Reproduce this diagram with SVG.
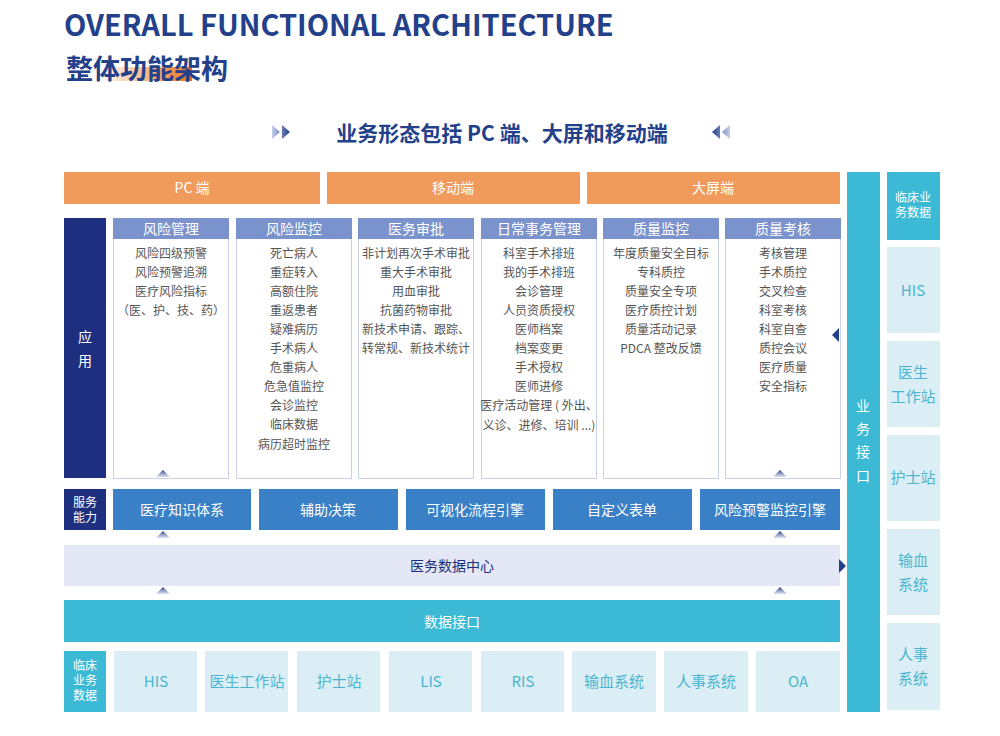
<svg xmlns="http://www.w3.org/2000/svg" width="1000" height="736" viewBox="0 0 1000 736">
<defs>
<linearGradient id="og" x1="0" x2="1"><stop offset="0" stop-color="#f08a3c" stop-opacity="0"/><stop offset="0.5" stop-color="#f08a3c" stop-opacity="0.6"/><stop offset="1" stop-color="#e8701f"/></linearGradient>
<linearGradient id="ag" x1="0" y1="0" x2="0" y2="1"><stop offset="0" stop-color="#1d2f7e"/><stop offset="1" stop-color="#7b93cc" stop-opacity="0.3"/></linearGradient>
<linearGradient id="ch" x1="0" x2="1"><stop offset="0" stop-color="#c5cdea"/><stop offset="1" stop-color="#23408a"/></linearGradient>
<linearGradient id="chl" x1="1" x2="0"><stop offset="0" stop-color="#c5cdea"/><stop offset="1" stop-color="#23408a"/></linearGradient>
</defs>
<style>
text{font-family:"Noto Sans CJK SC","Noto Sans",sans-serif;}
.w{fill:#fff;font-size:14px;text-anchor:middle}
.it{fill:#555;font-size:12px;text-anchor:middle}
.hd{fill:#7b93cc}
.bd{fill:#fff;stroke:#c9d0e8;stroke-width:1}
.sv{fill:#3a80c6}
.lt{fill:#dceef5}
.lx{fill:#4bb5d0;font-size:15px;text-anchor:middle}
.or{fill:#f09a5c}
.tl{fill:#3bb9d5}
.nv{fill:#1d2f7e}
</style>
<rect width="1000" height="736" fill="#fff"/>
<g id="title">
<text x="64" y="36" font-family="Roboto,'Liberation Sans',sans-serif" font-size="29" font-weight="bold" fill="#23408a">OVERALL FUNCTIONAL ARCHITECTURE</text>
<rect x="100" y="67" width="92" height="14" fill="url(#og)"/>
<text x="66" y="79" font-size="27" font-weight="bold" fill="#23408a">整体功能架构</text>
<path d="M272,125 l8,7 l-8,7 z M282,125 l8,7 l-8,7 z" fill="url(#ch)"/>
<text x="502" y="141" font-size="21" font-weight="bold" fill="#23408a" text-anchor="middle">业务形态包括 PC 端、大屏和移动端</text>
<path d="M730,125 l-8,7 l8,7 z M720,125 l-8,7 l8,7 z" fill="url(#chl)"/>
</g>
<g id="terminals">
<rect class="or" x="64" y="172" width="256" height="32"/><text class="w" x="192" y="193">PC 端</text>
<rect class="or" x="327" y="172" width="253" height="32"/><text class="w" x="453" y="193">移动端</text>
<rect class="or" x="587" y="172" width="253" height="32"/><text class="w" x="713" y="193">大屏端</text>
</g>
<g id="app">
<rect class="nv" x="64" y="218" width="42" height="260"/>
<text class="w" x="85" y="342">应</text><text class="w" x="85" y="366">用</text>
<g id="c1"><rect class="bd" x="113.5" y="218.5" width="115" height="260"/><rect class="hd" x="113" y="218" width="116" height="21"/><text class="w" x="171" y="234" font-size="13">风险管理</text>
<text class="it" x="171" y="258">风险四级预警</text><text class="it" x="171" y="277">风险预警追溯</text><text class="it" x="171" y="296">医疗风险指标</text><text class="it" x="171" y="315">（医、护、技、药）</text></g>
<g id="c2"><rect class="bd" x="236.5" y="218.5" width="115" height="260"/><rect class="hd" x="236" y="218" width="116" height="21"/><text class="w" x="294" y="234" font-size="13">风险监控</text>
<text class="it" x="294" y="258">死亡病人</text><text class="it" x="294" y="277">重症转入</text><text class="it" x="294" y="296">高额住院</text><text class="it" x="294" y="315">重返患者</text><text class="it" x="294" y="334">疑难病历</text><text class="it" x="294" y="353">手术病人</text><text class="it" x="294" y="372">危重病人</text><text class="it" x="294" y="391">危急值监控</text><text class="it" x="294" y="410">会诊监控</text><text class="it" x="294" y="429">临床数据</text><text class="it" x="294" y="449">病历超时监控</text></g>
<g id="c3"><rect class="bd" x="358.5" y="218.5" width="115" height="260"/><rect class="hd" x="358" y="218" width="116" height="21"/><text class="w" x="416" y="234" font-size="13">医务审批</text>
<text class="it" x="416" y="258">非计划再次手术审批</text><text class="it" x="416" y="277">重大手术审批</text><text class="it" x="416" y="296">用血审批</text><text class="it" x="416" y="315">抗菌药物审批</text><text class="it" x="416" y="334">新技术申请、跟踪、</text><text class="it" x="416" y="353">转常规、新技术统计</text></g>
<g id="c4"><rect class="bd" x="481.5" y="218.5" width="115" height="260"/><rect class="hd" x="481" y="218" width="116" height="21"/><text class="w" x="539" y="234" font-size="13">日常事务管理</text>
<text class="it" x="539" y="258">科室手术排班</text><text class="it" x="539" y="277">我的手术排班</text><text class="it" x="539" y="296">会诊管理</text><text class="it" x="539" y="315">人员资质授权</text><text class="it" x="539" y="334">医师档案</text><text class="it" x="539" y="353">档案变更</text><text class="it" x="539" y="372">手术授权</text><text class="it" x="539" y="391">医师进修</text><text class="it" x="539" y="410">医疗活动管理 ( 外出、</text><text class="it" x="539" y="430">义诊、进修、培训 ...)</text></g>
<g id="c5"><rect class="bd" x="603.5" y="218.5" width="115" height="260"/><rect class="hd" x="603" y="218" width="116" height="21"/><text class="w" x="661" y="234" font-size="13">质量监控</text>
<text class="it" x="661" y="258">年度质量安全目标</text><text class="it" x="661" y="277">专科质控</text><text class="it" x="661" y="296">质量安全专项</text><text class="it" x="661" y="315">医疗质控计划</text><text class="it" x="661" y="334">质量活动记录</text><text class="it" x="661" y="353">PDCA 整改反馈</text></g>
<g id="c6"><rect class="bd" x="725.5" y="218.5" width="115" height="260"/><rect class="hd" x="725" y="218" width="116" height="21"/><text class="w" x="783" y="234" font-size="13">质量考核</text>
<text class="it" x="783" y="258">考核管理</text><text class="it" x="783" y="277">手术质控</text><text class="it" x="783" y="296">交叉检查</text><text class="it" x="783" y="315">科室考核</text><text class="it" x="783" y="334">科室自查</text><text class="it" x="783" y="353">质控会议</text><text class="it" x="783" y="372">医疗质量</text><text class="it" x="783" y="391">安全指标</text></g>
</g>
<g id="service">
<rect class="nv" x="64" y="489" width="42" height="41"/>
<text x="85" y="507" fill="#fff" font-size="12" text-anchor="middle">服务</text><text x="85" y="522" fill="#fff" font-size="12" text-anchor="middle">能力</text>
<rect class="sv" x="113" y="489" width="138" height="41"/><text class="w" x="182" y="515">医疗知识体系</text>
<rect class="sv" x="259" y="489" width="139" height="41"/><text class="w" x="328" y="515">辅助决策</text>
<rect class="sv" x="406" y="489" width="139" height="41"/><text class="w" x="475" y="515">可视化流程引擎</text>
<rect class="sv" x="553" y="489" width="139" height="41"/><text class="w" x="622" y="515">自定义表单</text>
<rect class="sv" x="700" y="489" width="140" height="41"/><text class="w" x="770" y="515">风险预警监控引擎</text>
</g>
<g id="datacenter"><rect x="64" y="545" width="776" height="41" fill="#e4e8f6"/><text x="452" y="571" font-size="14" fill="#1d2f7e" text-anchor="middle">医务数据中心</text></g>
<g id="datainterface"><rect class="tl" x="64" y="600" width="776" height="42"/><text class="w" x="452" y="627">数据接口</text></g>
<g id="bottom">
<rect class="tl" x="64" y="651" width="42" height="61"/>
<text x="85" y="670" fill="#fff" font-size="12" text-anchor="middle">临床</text><text x="85" y="685" fill="#fff" font-size="12" text-anchor="middle">业务</text><text x="85" y="700" fill="#fff" font-size="12" text-anchor="middle">数据</text>
<rect class="lt" x="114" y="651" width="83" height="61"/><text class="lx" x="156" y="687">HIS</text>
<rect class="lt" x="205" y="651" width="83" height="61"/><text class="lx" x="247" y="687">医生工作站</text>
<rect class="lt" x="297" y="651" width="83" height="61"/><text class="lx" x="339" y="687">护士站</text>
<rect class="lt" x="389" y="651" width="83" height="61"/><text class="lx" x="431" y="687">LIS</text>
<rect class="lt" x="481" y="651" width="83" height="61"/><text class="lx" x="523" y="687">RIS</text>
<rect class="lt" x="572" y="651" width="84" height="61"/><text class="lx" x="614" y="687">输血系统</text>
<rect class="lt" x="664" y="651" width="84" height="61"/><text class="lx" x="706" y="687">人事系统</text>
<rect class="lt" x="756" y="651" width="84" height="61"/><text class="lx" x="798" y="687">OA</text>
</g>
<g id="bizinterface">
<rect class="tl" x="847" y="172" width="33" height="540"/>
<text class="w" x="863" y="411">业</text><text class="w" x="863" y="434">务</text><text class="w" x="863" y="457">接</text><text class="w" x="863" y="481">口</text>
</g>
<g id="right">
<rect class="tl" x="887" y="172" width="53" height="68"/>
<text x="913" y="202" fill="#fff" font-size="12" text-anchor="middle">临床业</text><text x="913" y="217" fill="#fff" font-size="12" text-anchor="middle">务数据</text>
<rect class="lt" x="887" y="247" width="53" height="86"/><text class="lx" x="913" y="296">HIS</text>
<rect class="lt" x="887" y="341" width="53" height="86"/><text class="lx" x="913" y="378">医生</text><text class="lx" x="913" y="402">工作站</text>
<rect class="lt" x="887" y="435" width="53" height="86"/><text class="lx" x="913" y="483">护士站</text>
<rect class="lt" x="887" y="529" width="53" height="86"/><text class="lx" x="913" y="566">输血</text><text class="lx" x="913" y="590">系统</text>
<rect class="lt" x="887" y="623" width="53" height="87"/><text class="lx" x="913" y="660">人事</text><text class="lx" x="913" y="684">系统</text>
</g>
<g id="connectors" fill="url(#ag)">
<path d="M163,470 l-7,7 h14 z"/><path d="M780,470 l-7,7 h14 z"/>
<path d="M163,531 l-7,7 h14 z"/><path d="M780,531 l-7,7 h14 z"/>
<path d="M163,587 l-7,7 h14 z"/><path d="M780,587 l-7,7 h14 z"/>
<path d="M832,335 l7,-7 v14 z" fill="#23408a"/>
<path d="M846,566 l-7,-7 v14 z" fill="#23408a"/>
</g>
</svg>
